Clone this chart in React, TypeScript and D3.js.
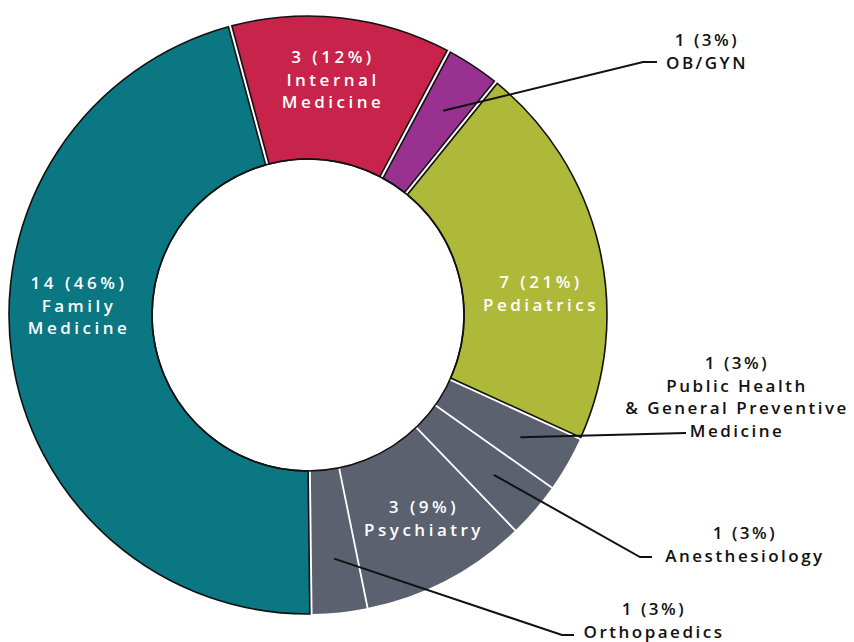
import * as d3 from "d3";

const specialties = ["Family Medicine", "Internal Medicine", "OB/GYN", "Pediatrics", "Public Health & General Preventive Medicine", "Anesthesiology", "Psychiatry", "Orthopaedics"];
const counts = [14, 3, 1, 7, 1, 1, 3, 1];
const percents = [46, 12, 3, 21, 3, 3, 9, 3];
const nameLines = [
  ["Family", "Medicine"],
  ["Internal", "Medicine"],
  ["OB/GYN"],
  ["Pediatrics"],
  ["Public Health", "& General Preventive", "Medicine"],
  ["Anesthesiology"],
  ["Psychiatry"],
  ["Orthopaedics"],
];
const colors = ["#0a7783", "#c8234a", "#993191", "#aeb939", "#5c6170", "#5c6170", "#5c6170", "#5c6170"];
const outlined = [true, true, true, true, false, false, false, false];

// label layout: inside = white text in slice, outside = black text with leader
const labelPos: { x: number; y: number; inside: boolean; elbow?: [number, number]; end?: [number, number] }[] = [
  { x: 79, y: 289, inside: true },
  { x: 333, y: 63, inside: true },
  { x: 707, y: 46, inside: false, elbow: [643, 62], end: [657, 62] },
  { x: 541, y: 288, inside: true },
  { x: 737, y: 369, inside: false, elbow: [686, 433], end: [686, 433] },
  { x: 745, y: 539, inside: false, elbow: [640, 557], end: [652, 557] },
  { x: 424, y: 513, inside: true },
  { x: 654, y: 615, inside: false, elbow: [562, 635], end: [574, 635] },
];

const W = 854;
const H = 642;
const cx = 308;
const cy = 315;
const outerR = 299;
const innerR = 156;
const lineH = 22.5;
const rot = (-0.7 * Math.PI) / 180;

export default function App() {
  const rows = specialties.map((s, i) => ({ name: s, count: counts[i], pct: percents[i], i }));
  const pie = d3
    .pie<any>()
    .sort(null)
    .value((d) => d.pct)
    .startAngle(Math.PI + rot)
    .endAngle(3 * Math.PI + rot);
  const arcs = pie(rows);
  const padR = Math.sqrt(innerR * innerR + outerR * outerR);
  const arc = d3
    .arc<any>()
    .innerRadius(innerR)
    .outerRadius(outerR)
    .padRadius(padR)
    .padAngle((d) => (outlined[d.data.i] ? 3.6 / padR : 1.8 / padR));
  const leaderArc = d3.arc<any>().innerRadius(245).outerRadius(245);

  return (
    <svg width={W} height={H} style={{ position: "absolute", left: 0, top: 0, background: "#fff" }}>
      <g transform={`translate(${cx},${cy})`}>
        {arcs.map((a) => (
          <path
            key={a.data.name}
            d={arc(a) || ""}
            fill={colors[a.data.i]}
            stroke={outlined[a.data.i] ? "#111" : "none"}
            strokeWidth={1.6}
          />
        ))}
        <circle r={innerR} fill="none" stroke="#111" strokeWidth={1.6} />
      </g>
      {arcs.map((a) => {
        const i = a.data.i;
        const lp = labelPos[i];
        if (lp.inside) return null;
        const [sx, sy] = leaderArc.centroid(a);
        const pts: [number, number][] = [[sx + cx, sy + cy], lp.elbow!, lp.end!];
        return <path key={"l" + i} d={d3.line()(pts) || ""} fill="none" stroke="#111" strokeWidth={2} />;
      })}
      {arcs.map((a) => {
        const i = a.data.i;
        const lp = labelPos[i];
        const lines = [`${counts[i]} (${percents[i]}%)`, ...nameLines[i]];
        return (
          <text
            key={"t" + i}
            x={lp.x}
            y={lp.y}
            textAnchor="middle"
            fill={lp.inside ? "#fff" : "#111"}
            fontFamily="'Open Sans', sans-serif"
            fontWeight={600}
            fontSize={17}
            letterSpacing={lp.inside ? 3.5 : 2.5}
          >
            {lines.map((t, k) => (
              <tspan key={k} x={lp.x} y={lp.y + k * lineH}>
                {t}
              </tspan>
            ))}
          </text>
        );
      })}
    </svg>
  );
}
